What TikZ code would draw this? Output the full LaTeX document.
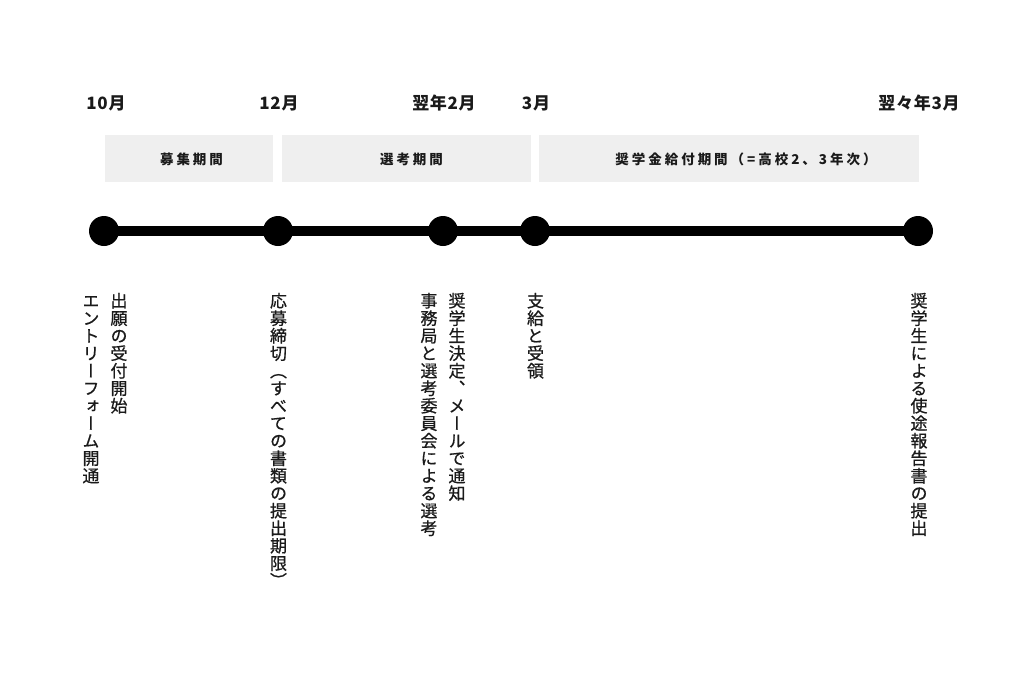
\documentclass[tikz,border=0pt]{standalone}
\usepackage{fontspec}
\setmainfont{Noto Sans CJK JP}
\newfontfamily\tatefont[RawFeature=+vert, FakeBold=0.7]{Noto Sans CJK JP}
\newfontfamily\boxfont[LetterSpace=22]{Noto Sans CJK JP}
\newfontfamily\monthfont[LetterSpace=4]{Noto Sans CJK JP}
\definecolor{boxgray}{HTML}{EFEFEF}
\definecolor{ink}{HTML}{1A1A1A}
\makeatletter
\def\tate@end{\tate@end}
\newcommand\tate[1]{\vbox{\tatefont\fontsize{17}{17.5}\selectfont
  \baselineskip=17.5pt\lineskip=0pt\lineskiplimit=-\maxdimen
  \tate@loop#1\tate@end}}
\def\tate@loop#1{\ifx#1\tate@end\else
  \hbox to 17.5pt{\hss\vrule height 14.96pt depth 2.04pt width 0pt #1\hss}%
  \expandafter\tate@loop\fi}
\makeatother
\tikzset{
  dotnode/.style={circle, fill=black, minimum size=30pt, inner sep=0pt},
  month/.style={font=\monthfont\bfseries\fontsize{17}{20}\selectfont, text=ink, inner sep=0pt},
  period/.style={fill=boxgray, inner sep=0pt, minimum height=47pt},
  periodtext/.style={inner sep=0pt, font=\boxfont\bfseries\fontsize{13.5}{16}\selectfont, text=ink},
  vlabel/.style={anchor=north, inner sep=0pt, text=ink},
}
\begin{document}
\begin{tikzpicture}[x=1pt,y=-1pt]
\useasboundingbox (0,0) rectangle (1024,683);
% month labels
\node[month] (m1) at (106,103) {10月};
\node[month] (m2) at (279,103) {12月};
\node[month] (m3) at (444,103) {翌年2月};
\node[month] (m4) at (536,103) {3月};
\node[month] (m5) at (919,103) {翌々年3月};
% period boxes
\node[period, minimum width=168pt] (p1) at (189,158.5) {};
\node[period, minimum width=249pt] (p2) at (406.5,158.5) {};
\node[period, minimum width=380pt] (p3) at (729,158.5) {};
\node[periodtext] (t1) at (191.5,159) {募集期間};
\node[periodtext] (t2) at (411.5,159) {選考期間};
\node[periodtext] (t3) at (746,159) {奨学金給付期間（=高校2、3年次）};
% timeline
\node[dotnode] (d1) at (104,231) {};
\node[dotnode] (d2) at (278,231) {};
\node[dotnode] (d3) at (443,231) {};
\node[dotnode] (d4) at (535,231) {};
\node[dotnode] (d5) at (918,231) {};
\draw[line width=10pt] (d1.center) -- (d5.center);
% vertical labels
\node[vlabel] (l1a) at (119,292) {\tate{出願の受付開始}};
\node[vlabel] (l1b) at (91,292) {\tate{エントリーフォーム開通}};
\node[vlabel] (l2) at (278.5,292) {\tate{応募締切（すべての書類の提出期限）}};
\node[vlabel] (l3a) at (457,292) {\tate{奨学生決定、メールで通知}};
\node[vlabel] (l3b) at (429,292) {\tate{事務局と選考委員会による選考}};
\node[vlabel] (l4) at (535.5,292) {\tate{支給と受領}};
\node[vlabel] (l5) at (919,292) {\tate{奨学生による使途報告書の提出}};
\end{tikzpicture}
\end{document}
